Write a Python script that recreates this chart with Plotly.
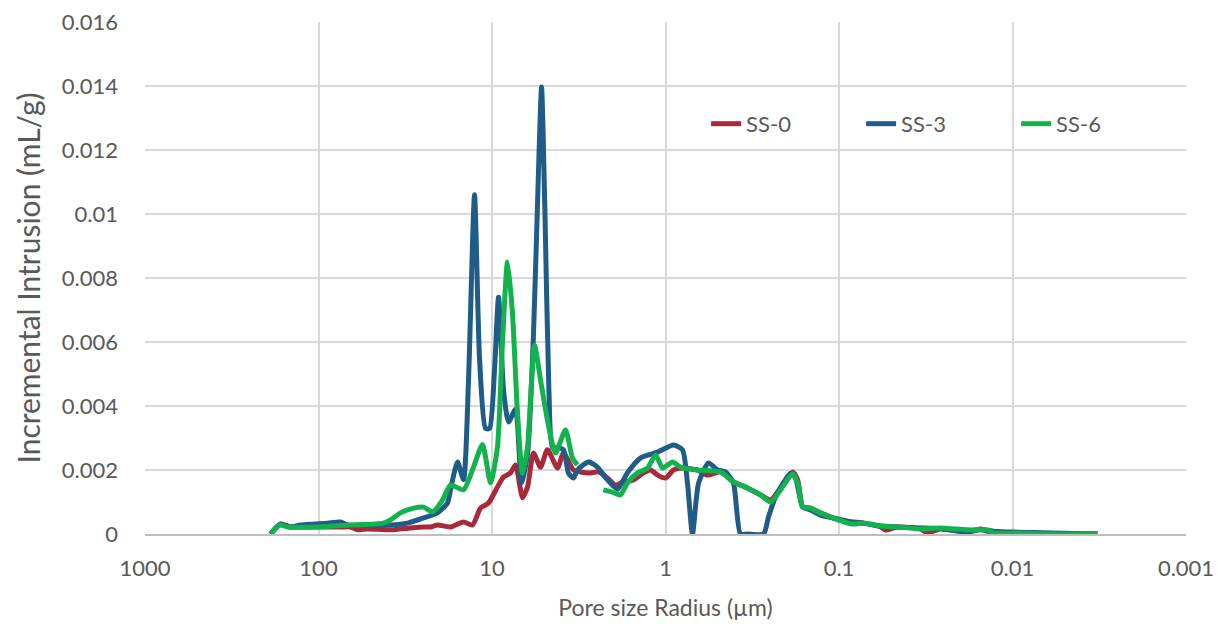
import plotly.graph_objects as go

# Pore radius (µm) and incremental intrusion (mL/g)
ss0_x = [189, 166, 145, 127, 101, 74.7, 65.4, 59.6, 52.2, 38.5, 29.5, 24.8, 22.6, 20.6, 17.35, 14.6, 12.95,
         11.65, 10.47, 9.30, 8.58, 7.82, 7.32, 6.85, 6.67, 6.24, 5.77, 5.25, 4.79, 4.19, 3.87, 3.39, 3.09,
         2.71, 2.43, 2.16, 1.94, 1.75, 1.53, 1.34, 1.22, 1.11, 1.00, 0.899, 0.788, 0.654, 0.573, 0.482,
         0.406, 0.337, 0.283, 0.248, 0.217, 0.185, 0.173, 0.162, 0.146, 0.128, 0.108, 0.0893, 0.0723,
         0.0576, 0.054, 0.046, 0.0339, 0.0309, 0.026, 0.0182, 0.0153, 0.0129, 0.00987, 0.006, 0.00324]
ss0_y = [0, 0.00031, 0.00022, 0.00022, 0.00022, 0.00022, 0.00022, 0.00013, 0.00016, 0.00013, 0.00019,
         0.00022, 0.00022, 0.00028, 0.00022, 0.000375, 0.00028, 0.00081, 0.00097, 0.00147, 0.00178,
         0.00191, 0.00216, 0.00138, 0.00113, 0.00147, 0.00253, 0.00209, 0.00263, 0.00206, 0.00253,
         0.0020, 0.00194, 0.00191, 0.00194, 0.00175, 0.00153, 0.00163, 0.00169, 0.00191, 0.0020, 0.00184,
         0.00175, 0.0020, 0.00206, 0.0020, 0.00184, 0.00194, 0.00163, 0.00144, 0.00122, 0.00106, 0.00144,
         0.00194, 0.00169, 0.00085, 0.00081, 0.00066, 0.0005, 0.000375, 0.00034, 0.00022, 0.000125,
         0.00022, 0.00016, 0.00003, 0.00016, 0.00006, 0.00016, 0.00003, 0.00003, 0, 0]

ss3_x = [189, 166, 145, 127, 88.8, 74.7, 68.1, 52.2, 38.5, 30.7, 24.8, 20.6, 18.05, 17.35, 15.8, 14.6,
         13.66, 12.61, 11.8, 10.9, 10.33, 9.7, 9.17, 8.58, 8.03, 7.32, 6.76, 6.24, 5.77, 5.35, 5.18,
         4.95, 4.7, 4.48, 4.19, 3.87, 3.62, 3.39, 3.22, 2.78, 2.47, 2.16, 1.89, 1.66, 1.39, 1.11, 0.899,
         0.798, 0.747, 0.699, 0.645, 0.565, 0.501, 0.451, 0.406, 0.370, 0.337, 0.272, 0.255, 0.232,
         0.190, 0.178, 0.162, 0.146, 0.128, 0.108, 0.0893, 0.0723, 0.0576, 0.046, 0.0339, 0.026, 0.0182,
         0.0153, 0.0129, 0.00987, 0.006, 0.00324]
ss3_y = [0, 0.00031, 0.00022, 0.00028, 0.00034, 0.000375, 0.00028, 0.00028, 0.00028, 0.00034, 0.0005,
         0.00066, 0.00097, 0.00138, 0.00225, 0.0017, 0.0048, 0.0106, 0.0055, 0.0033, 0.0033, 0.005,
         0.0074, 0.0045, 0.0035, 0.0039, 0.0016, 0.0025, 0.0062, 0.012, 0.01397, 0.01, 0.0045, 0.0027,
         0.0027, 0.00263, 0.0019, 0.00175, 0.0020, 0.00225, 0.00209, 0.00169, 0.0014, 0.00191, 0.00238,
         0.00256, 0.00278, 0.00263, 0.00159, 0, 0.00159, 0.00222, 0.0020, 0.00194, 0.00159, 0, 0, 0,
         0.00053, 0.00116, 0.0019, 0.00175, 0.00085, 0.00075, 0.00059, 0.0005, 0.0004, 0.00034, 0.00025,
         0.00022, 0.00019, 0.00016, 0.00006, 0.00013, 0.00009, 0.00006, 0.00003, 0]

ss6_x = [189, 166, 150.9, 101.3, 65.4, 42.2, 38.5, 33.7, 28.3, 24.8, 22.0, 19.3, 17.35, 14.6, 12.78,
         11.34, 10.2, 9.30, 8.7, 8.14, 7.62, 7.13, 6.67, 6.24, 5.69, 5.25, 4.79, 4.31, 3.77, 3.44, 3.22,
         None,
         2.28, 2.02, 1.82, 1.66, 1.45, 1.27, 1.14, 1.04, 0.911, 0.820, 0.654, 0.482, 0.406, 0.337, 0.283,
         0.248, 0.217, 0.185, 0.173, 0.162, 0.146, 0.128, 0.108, 0.0836, 0.0723, 0.0576, 0.046, 0.0339,
         0.026, 0.0182, 0.0153, 0.0139, 0.0129, 0.00987, 0.006, 0.00324]
ss6_y = [0, 0.00028, 0.00022, 0.00022, 0.00028, 0.00034, 0.00044, 0.00066, 0.00081, 0.00084, 0.00069,
         0.00106, 0.00153, 0.00138, 0.00209, 0.0028, 0.0016, 0.00272, 0.006, 0.0085, 0.0069, 0.00378,
         0.0019, 0.00272, 0.0059, 0.00481, 0.00356, 0.00253, 0.00325, 0.00238, 0.00216,
         None,
         0.00138, 0.00131, 0.00122, 0.00159, 0.00191, 0.00206, 0.00247, 0.00206, 0.00225, 0.00209, 0.0020,
         0.00194, 0.00163, 0.00144, 0.00122, 0.0010, 0.00138, 0.00188, 0.0016, 0.00085, 0.00081, 0.00066,
         0.0005, 0.00031, 0.00034, 0.00025, 0.00022, 0.00016, 0.00019, 0.00013, 0.00013, 0.00013, 0.00003,
         0.00003, 0, 0]

series_names = ["SS-0", "SS-3", "SS-6"]
series_colors = ["#A82A3A", "#1F5C87", "#12B24C"]

x_tickvals = [1000, 100, 10, 1, 0.1, 0.01, 0.001]
x_ticktext = ["1000", "100", "10", "1", "0.1", "0.01", "0.001"]
y_tickvals = [0, 0.002, 0.004, 0.006, 0.008, 0.01, 0.012, 0.014, 0.016]
y_ticktext = ["0", "0.002", "0.004", "0.006", "0.008", "0.01", "0.012", "0.014", "0.016"]

fig = go.Figure()
for name, xs, ys, col in zip(series_names, [ss0_x, ss3_x, ss6_x], [ss0_y, ss3_y, ss6_y], series_colors):
    fig.add_trace(go.Scatter(x=xs, y=ys, name=name, mode="lines",
                             line=dict(color=col, width=5, shape="spline", smoothing=0.6),
                             connectgaps=False))

font_fam = "Lato, 'Open Sans', sans-serif"
fig.update_layout(
    width=1225, height=633,
    margin=dict(l=145, r=39, t=22, b=99),
    paper_bgcolor="white", plot_bgcolor="white",
    font=dict(family=font_fam, color="#595959", size=22),
    showlegend=True,
    legend=dict(orientation="h", x=0.539, y=0.801, xanchor="left", yanchor="middle",
                font=dict(size=22, color="#595959"), bgcolor="rgba(0,0,0,0)",
                entrywidth=110, entrywidthmode="pixels", tracegroupgap=0),
    xaxis=dict(type="log", range=[3, -3], tickvals=x_tickvals, ticktext=x_ticktext,
               showgrid=True, gridcolor="#D9D9D9", gridwidth=1.5, automargin=False,
               zeroline=False, showline=True, linecolor="#BFBFBF", linewidth=1.5,
               ticks="", ticklabelstandoff=14, tickfont=dict(size=22, color="#595959"),
               title=dict(text="Pore size Radius (µm)", font=dict(size=23, color="#595959"), standoff=20)),
    yaxis=dict(range=[0, 0.016], tickvals=y_tickvals, ticktext=y_ticktext, automargin=False,
               showgrid=True, gridcolor="#D9D9D9", gridwidth=1.5, zeroline=False,
               showline=False, ticks="", ticklabelstandoff=26,
               tickfont=dict(size=22, color="#595959"),
               title=dict(text="Incremental Intrusion (mL/g)", font=dict(size=30, color="#595959"), standoff=12)),
)

fig.write_html("out.html", config={"displayModeBar": False},
               post_script="document.body.style.margin='0px';")
